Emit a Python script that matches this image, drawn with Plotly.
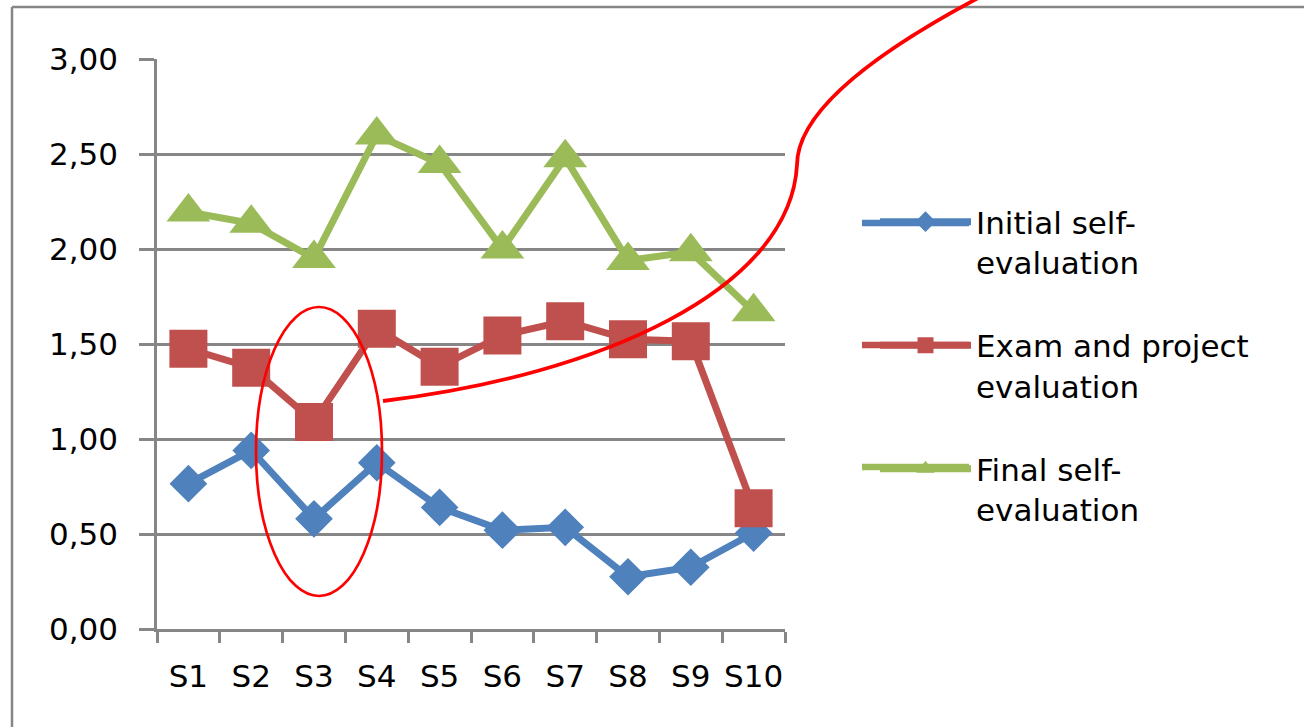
import plotly.graph_objects as go

W, H = 1304, 727

categories = ["S1", "S2", "S3", "S4", "S5", "S6", "S7", "S8", "S9", "S10"]
initial_self = [0.765, 0.94, 0.58, 0.875, 0.64, 0.52, 0.535, 0.275, 0.325, 0.505]
exam_project = [1.475, 1.375, 1.09, 1.58, 1.38, 1.545, 1.62, 1.525, 1.515, 0.635]
final_self = [2.195, 2.135, 1.95, 2.60, 2.45, 2.00, 2.48, 1.94, 1.985, 1.67]

series_names = ["Initial self-<br>evaluation", "Exam and project<br>evaluation", "Final self-<br>evaluation"]
series_colors = ["#4F81BD", "#C0504D", "#9BBB59"]
series_symbols = ["diamond", "square", "triangle-up"]
series_sizes = [29, 38, 38]
series_values = [initial_self, exam_project, final_self]

FONT = "DejaVu Sans"
GRID = "#868686"


def px(x):
    return x / W


def py(y):
    return 1 - y / H


fig = go.Figure()
for i, (name, vals, col, sym, sz) in enumerate(zip(series_names, series_values, series_colors, series_symbols, series_sizes)):
    fig.add_trace(go.Scatter(
        x=categories, y=vals, name=name, mode="lines+markers",
        legendgroup=f"g{i}",
        line=dict(color=col, width=7),
        marker=dict(symbol=sym, size=sz, color=col, line=dict(width=0)),
    ))

shapes = []
# outer chart border (top and left visible)
shapes.append(dict(type="line", xref="paper", yref="paper", x0=px(12), x1=px(1310), y0=py(7), y1=py(7),
                   line=dict(color=GRID, width=2.5), layer="above"))
shapes.append(dict(type="line", xref="paper", yref="paper", x0=px(12), x1=px(12), y0=py(7), y1=py(735),
                   line=dict(color=GRID, width=2.5), layer="above"))
# red hand-drawn ellipse around S3
shapes.append(dict(type="circle", xref="paper", yref="paper", x0=px(256), x1=px(382), y0=py(307), y1=py(596),
                   line=dict(color="#FF0000", width=2.7), layer="above"))
# red curved connector
pts = [(383, 401), (600, 375), (790, 290), (797, 165), (797, 110), (880, 50), (980, -3)]
p = [(px(a), py(b)) for a, b in pts]
path = "M {:.5f},{:.5f} C {:.5f},{:.5f} {:.5f},{:.5f} {:.5f},{:.5f} C {:.5f},{:.5f} {:.5f},{:.5f} {:.5f},{:.5f}".format(
    *p[0], *p[1], *p[2], *p[3], *p[4], *p[5], *p[6])
shapes.append(dict(type="path", xref="paper", yref="paper", path=path,
                   line=dict(color="#FF0000", width=3.8), layer="above"))
# extended legend sample lines (legend symbol lines are short in plotly)
legend_line_y = [223, 345, 467]
for yy, col in zip(legend_line_y, series_colors):
    shapes.append(dict(type="line", xref="paper", yref="paper", x0=px(862), x1=px(969), y0=py(yy), y1=py(yy),
                       line=dict(color=col, width=6.5), layer="above"))

fig.update_layout(
    template="none",
    width=W, height=H, autosize=False,
    margin=dict(l=0, r=0, t=0, b=0, pad=0, autoexpand=False),
    paper_bgcolor="white", plot_bgcolor="white",
    separators=",.",
    font=dict(family=FONT, size=31, color="#000000"),
    showlegend=True,
    legend=dict(
        x=px(875), y=py(195), xanchor="left", yanchor="top",
        bgcolor="rgba(0,0,0,0)", borderwidth=0,
        itemwidth=91, valign="top", tracegroupgap=40,
        font=dict(family=FONT, size=31, color="#000000"),
    ),
    xaxis=dict(
        domain=[px(157), px(785)], type="category", range=[-0.5, 9.5],
        automargin=False, tickangle=0,
        tickson="boundaries", ticks="outside", ticklen=11, tickwidth=2.5, tickcolor=GRID,
        showline=True, linecolor=GRID, linewidth=2.5, showgrid=False, zeroline=False,
        ticklabelstandoff=18, tickfont=dict(family=FONT, size=31, color="#000000"),
    ),
    yaxis=dict(
        domain=[py(629), py(59)], range=[0, 3], dtick=0.5, tick0=0, tickformat=".2f",
        automargin=False,
        ticks="outside", ticklen=15, tickwidth=2.5, tickcolor=GRID,
        showline=True, linecolor=GRID, linewidth=2.5,
        showgrid=True, gridcolor=GRID, gridwidth=2.5, zeroline=False,
        ticklabelstandoff=15, tickfont=dict(family=FONT, size=31, color="#000000"),
    ),
    shapes=shapes,
)

fig.write_html("out.html")
